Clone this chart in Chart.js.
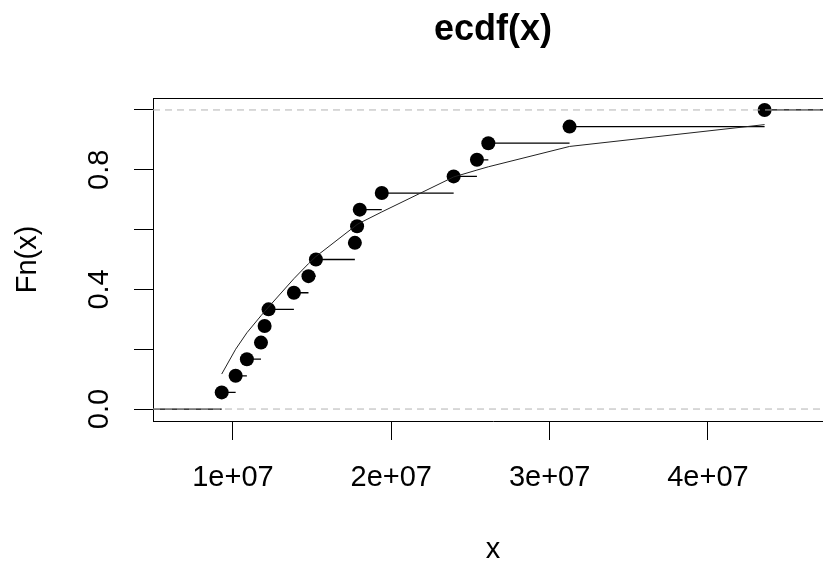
<!DOCTYPE html>
<html>
<head>
<meta charset="utf-8">
<script src="https://cdn.jsdelivr.net/npm/chart.js@4/dist/chart.umd.min.js"></script>
<style>
  html, body { margin: 0; padding: 0; background: #fff; overflow: hidden; }
  #ecdf { display: block; }
</style>
</head>
<body>
<canvas id="ecdf" width="860" height="566"></canvas>
<script>
"use strict";

// sorted sample values (knots of the ecdf)
const knotsX = [9.29e6, 1.017e7, 1.088e7, 1.177e7, 1.2e7, 1.225e7, 1.385e7, 1.477e7, 1.524e7,
  1.77e7, 1.784e7, 1.801e7, 1.94e7, 2.394e7, 2.541e7, 2.613e7, 3.126e7, 4.358e7];
// Fn(x) at each knot
const fnY = [0.0556, 0.1111, 0.1667, 0.2222, 0.2778, 0.3333, 0.3889, 0.4444, 0.5,
  0.5556, 0.6111, 0.6667, 0.7222, 0.7778, 0.8333, 0.8889, 0.9444, 1.0];
// fitted cdf drawn over the steps, read at the same knots
const fitY = [0.117, 0.200, 0.255, 0.312, 0.326, 0.341, 0.436, 0.486, 0.51,
  0.611, 0.617, 0.622, 0.659, 0.776, 0.799, 0.810, 0.878, 0.951];

const xRange = [4.95e6, 4.79e7];
const yRange = [-0.04, 1.04];
const xTicks = [1e7, 2e7, 3e7, 4e7];
const xTickLabels = ["1e+07", "2e+07", "3e+07", "4e+07"];
const yTicks = [0, 0.2, 0.4, 0.6, 0.8, 1.0];
const yTickLabels = ["0.0", "", "0.4", "", "0.8", ""];
const refLines = [0, 1];

const FONT = "'Liberation Sans', Arial, sans-serif";

// horizontal step pieces, broken with null gaps (no verticals)
const steps = [{ x: xRange[0], y: 0 }, { x: knotsX[0], y: 0 }, { x: knotsX[0], y: null }];
knotsX.forEach((k, i) => {
  const end = i < knotsX.length - 1 ? knotsX[i + 1] : xRange[1];
  steps.push({ x: k, y: fnY[i] }, { x: end, y: fnY[i] }, { x: end, y: null });
});

const dashed = [];
refLines.forEach((h) => {
  dashed.push({ x: xRange[0], y: h }, { x: xRange[1], y: h }, { x: xRange[1], y: null });
});

const extras = {
  id: "rbits",
  afterDraw(chart) {
    const { ctx, chartArea: a, scales } = chart;
    ctx.save();
    // rest of the box
    ctx.strokeStyle = "#000";
    ctx.lineWidth = 1;
    ctx.beginPath();
    ctx.moveTo(a.left, Math.round(a.top) + 0.5);
    ctx.lineTo(a.right, Math.round(a.top) + 0.5);
    ctx.lineTo(a.right, a.bottom);
    ctx.stroke();

    ctx.fillStyle = "#000";
    const cx = (a.left + a.right) / 2;
    ctx.textAlign = "center";
    ctx.textBaseline = "alphabetic";
    ctx.font = "bold 36px " + FONT;
    ctx.fillText("ecdf(x)", cx, 40);
    ctx.font = "29px " + FONT;
    ctx.fillText("x", cx, 558);

    // y labels read bottom to top
    yTicks.forEach((v, i) => {
      if (!yTickLabels[i]) return;
      ctx.save();
      ctx.translate(108, scales.y.getPixelForValue(v));
      ctx.rotate(-Math.PI / 2);
      ctx.fillText(yTickLabels[i], 0, 0);
      ctx.restore();
    });
    ctx.save();
    ctx.translate(36, (a.top + a.bottom) / 2);
    ctx.rotate(-Math.PI / 2);
    ctx.fillText("Fn(x)", 0, 0);
    ctx.restore();
    ctx.restore();
  },
};

new Chart(document.getElementById("ecdf"), {
  type: "scatter",
  data: {
    datasets: [
      {
        data: dashed,
        showLine: true,
        borderColor: "#b3b3b3",
        borderWidth: 1,
        borderDash: [7, 5],
        pointRadius: 0,
        order: 0,
      },
      {
        data: knotsX.map((x, i) => ({ x, y: fitY[i] })),
        showLine: true,
        borderColor: "#222",
        borderWidth: 1,
        pointRadius: 0,
        order: 1,
      },
      {
        data: knotsX.map((x, i) => ({ x, y: fnY[i] })),
        backgroundColor: "#000",
        borderWidth: 0,
        pointRadius: 7,
        order: 2,
      },
      {
        data: steps,
        showLine: true,
        borderColor: "#000",
        borderWidth: 1.3,
        pointRadius: 0,
        order: 3,
      },
    ],
  },
  options: {
    responsive: false,
    devicePixelRatio: 1,
    animation: false,
    layout: { autoPadding: false, padding: { left: 0, top: 98, right: 27, bottom: 0 } },
    plugins: { legend: { display: false }, tooltip: { enabled: false }, title: { display: false } },
    scales: {
      x: {
        type: "linear",
        min: xRange[0],
        max: xRange[1],
        afterBuildTicks: (s) => { s.ticks = xTicks.map((v) => ({ value: v })); },
        afterFit: (s) => { s.height = 145; },
        grid: { drawOnChartArea: false, tickLength: 19, color: "#000" },
        border: { color: "#000", width: 1 },
        ticks: {
          color: "#000",
          padding: 21,
          maxRotation: 0,
          font: { family: FONT, size: 29 },
          callback: (v) => xTickLabels[xTicks.indexOf(v)],
        },
      },
      y: {
        type: "linear",
        min: yRange[0],
        max: yRange[1],
        afterBuildTicks: (s) => { s.ticks = yTicks.map((v) => ({ value: v })); },
        afterFit: (s) => { s.width = 153; },
        grid: { drawOnChartArea: false, tickLength: 19, color: "#000" },
        border: { color: "#000", width: 1 },
        ticks: { display: false },
      },
    },
  },
  plugins: [extras],
});
</script>
</body>
</html>
